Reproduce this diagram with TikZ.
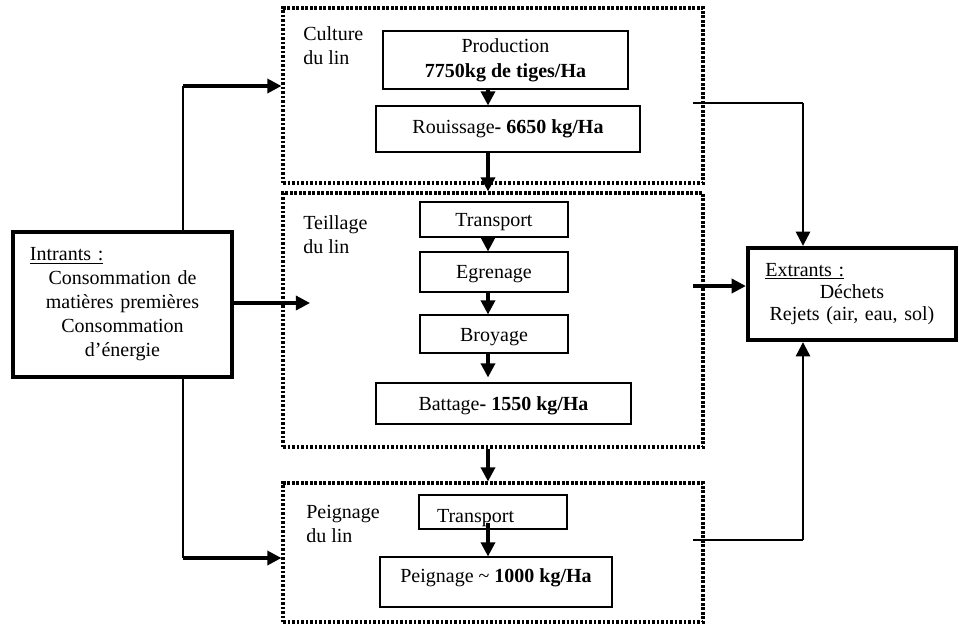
\documentclass[tikz,border=0pt]{standalone}
\usepackage{fontspec}
\setmainfont{Liberation Serif}
\usetikzlibrary{arrows.meta, positioning}

\begin{document}
\begin{tikzpicture}[x=0.6pt, y=-0.6pt,
  every node/.style={font=\fontsize{12}{14.4}\selectfont},
  etape/.style={draw, line width=0.7pt, inner sep=0pt, align=center},
  ligne/.style={etape, text depth=0pt, text height=#1},
  ligne/.default=8pt,
  groupe/.style={draw, line width=1.9pt, dash pattern=on 1.6pt off 1.1pt, inner sep=0pt},
  bilan/.style={draw, line width=2.6pt, inner sep=0pt, align=center},
  fleche/.style={line width=1.9pt, -{Triangle[length=8.5pt, width=8.5pt]}},
  flechemoy/.style={line width=1.3pt, -{Triangle[length=8.5pt, width=8.5pt]}},
  mince/.style={line width=0.7pt}]
  \useasboundingbox (0,0) rectangle (959,624);

  % les trois etapes
  \node[groupe, minimum width=252pt, minimum height=105pt] (culture) at (493,95.5) {};
  \node[groupe, minimum width=252pt, minimum height=152.4pt] (teillage) at (493,320) {};
  \node[groupe, minimum width=252pt, minimum height=83.4pt] (peignage) at (493,552.5) {};
  \node[anchor=north west, inner sep=0pt, align=left] (lculture) at (303,26) {Culture\\du lin};
  \node[anchor=north west, inner sep=0pt, align=left] (lteillage) at (303,215) {Teillage\\du lin};
  \node[anchor=north west, inner sep=0pt, align=left] (lpeignage) at (306,505) {Peignage\\du lin};

  \node[etape, minimum width=147pt, minimum height=34.8pt] (prod) at (505.5,60) {Production\\[0.5pt]\textbf{7750kg de tiges/Ha}};
  \node[ligne=5pt, minimum width=158.4pt, minimum height=27.6pt] (rouis) at (508,129) {Rouissage\textbf{- 6650 kg/Ha}};
  \node[ligne, minimum width=88.8pt, minimum height=21pt] (transp) at (494,219.5) {Transport};
  \node[ligne, minimum width=88.8pt, minimum height=24pt] (egren) at (494,272) {Egrenage};
  \node[ligne=9pt, minimum width=88.8pt, minimum height=22.8pt] (broy) at (494,334) {Broyage};
  \node[ligne, minimum width=153pt, minimum height=24.6pt] (batt) at (503.5,403.5) {Battage\textbf{- 1550 kg/Ha}};
  \node[ligne=12pt, minimum height=20.4pt, text width=67.2pt, inner xsep=10.8pt, align=left] (transpb) at (493,512) {Transport};
  \node[ligne=1pt, minimum width=139.2pt, minimum height=30pt] (peign) at (496,582) {Peignage \textasciitilde{} \textbf{1000 kg/Ha}};

  \node[bilan, minimum width=131.4pt, minimum height=87pt, text width=120pt] (intr) at (122.5,304.5)
    {\makebox[120pt][l]{\hspace{4.5pt}\underline{Intrants :}}\\Consommation de\\matières premières\\Consommation\\d’énergie};
  \node[bilan, minimum width=124.8pt, minimum height=55.2pt, text width=110pt] (extr) at (852,294)
    {\makebox[110pt][l]{\hspace{3pt}\underline{Extrants :}}\\[-1pt]Déchets\\[-1pt]Rejets (air, eau, sol)};

  \coordinate (axe) at (488,0);
  \coordinate (haut) at (183,86);
  \coordinate (bas) at (183,558);
  \coordinate (milieu) at (310,303);
  \coordinate (d1) at (693,103);
  \coordinate (d2) at (693,286);
  \coordinate (d3) at (693,540);
  \coordinate (col) at (803,0);

  \draw[fleche] (prod.south -| axe) -- (rouis.north -| axe);
  \draw[fleche] (rouis.south -| axe) -- (teillage.north -| axe);
  \draw[fleche] (transp.south -| axe) -- (egren.north -| axe);
  \draw[fleche] (egren.south -| axe) -- (broy.north -| axe);
  \draw[fleche, shorten >=3pt] (broy.south -| axe) -- (batt.north -| axe);
  \draw[fleche] (teillage.south -| axe) -- (peignage.north -| axe);
  \draw[fleche] ([yshift=4pt]transpb.south -| axe) -- (peign.north -| axe);

  \draw[mince] (intr.north -| haut) -- (haut);
  \draw[fleche] (haut) -- (culture.west |- haut);
  \draw[mince] (intr.south -| bas) -- (bas);
  \draw[fleche] (bas) -- (peignage.west |- bas);
  \draw[fleche] (intr.east |- milieu) -- (milieu);

  \draw[mince] (d1) -- (col |- d1);
  \draw[flechemoy] (col |- d1) -- (extr.north -| col);
  \draw[fleche] (d2) -- (extr.west |- d2);
  \draw[mince] (d3) -- (col |- d3);
  \draw[flechemoy] (col |- d3) -- (extr.south -| col);
\end{tikzpicture}
\end{document}
